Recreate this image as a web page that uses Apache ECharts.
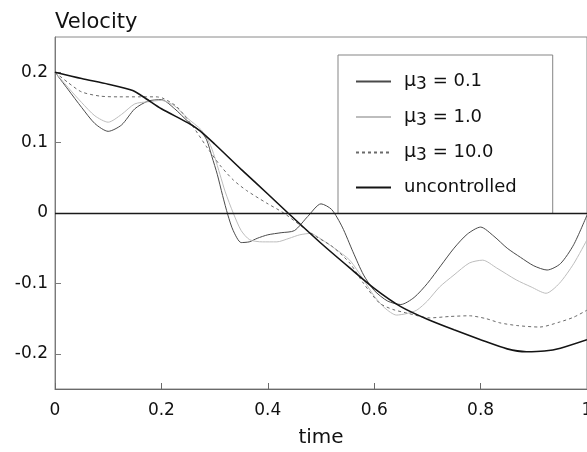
<!DOCTYPE html>
<html>
<head>
<meta charset="utf-8">
<script src="https://cdn.jsdelivr.net/npm/echarts@6/dist/echarts.min.js"></script>
<style>html,body{margin:0;padding:0;background:#fff;overflow:hidden;}#c{width:587px;height:452px;}</style>
</head>
<body>
<div id="c"></div>
<script>
var xTicks = [0, 0.2, 0.4, 0.6, 0.8, 1];
var yTicks = [-0.2, -0.1, 0, 0.1, 0.2];
var seriesNames = ['mu01', 'mu1', 'mu10', 'uncontrolled'];

var tMu01 = [0,0.025,0.05,0.075,0.1,0.125,0.15,0.175,0.2,0.225,0.25,0.275,0.285,0.295,0.305,0.315,0.325,0.335,0.35,0.365,0.38,0.4,0.425,0.45,0.475,0.5,0.52,0.54,0.56,0.58,0.6,0.625,0.65,0.675,0.7,0.725,0.75,0.775,0.8,0.825,0.85,0.875,0.9,0.925,0.95,0.975,1.0];
var vMu01 = [0.2,0.175,0.15,0.127,0.116,0.125,0.148,0.159,0.161,0.148,0.13,0.115,0.104,0.08,0.055,0.025,-0.003,-0.025,-0.042,-0.041,-0.036,-0.031,-0.028,-0.025,-0.005,0.013,0.005,-0.02,-0.055,-0.088,-0.11,-0.125,-0.13,-0.12,-0.1,-0.075,-0.05,-0.03,-0.02,-0.033,-0.05,-0.063,-0.075,-0.081,-0.072,-0.045,-0.003];

var tMu1 = [0,0.025,0.05,0.075,0.1,0.125,0.15,0.175,0.2,0.225,0.25,0.275,0.29,0.3,0.31,0.32,0.335,0.35,0.366,0.39,0.417,0.44,0.46,0.48,0.5,0.525,0.554,0.58,0.6,0.62,0.642,0.66,0.68,0.7,0.723,0.75,0.779,0.804,0.83,0.867,0.895,0.923,0.948,0.975,1.0];
var vMu1 = [0.2,0.178,0.157,0.138,0.129,0.14,0.155,0.158,0.16,0.152,0.134,0.118,0.1,0.08,0.055,0.03,0.0,-0.025,-0.038,-0.041,-0.041,-0.036,-0.031,-0.029,-0.037,-0.05,-0.067,-0.095,-0.118,-0.135,-0.145,-0.143,-0.138,-0.125,-0.105,-0.088,-0.071,-0.067,-0.078,-0.095,-0.105,-0.114,-0.1,-0.072,-0.038];

var tMu10 = [0,0.025,0.05,0.085,0.12,0.16,0.19,0.203,0.229,0.26,0.285,0.31,0.335,0.36,0.398,0.43,0.46,0.49,0.522,0.554,0.58,0.61,0.635,0.661,0.704,0.742,0.779,0.81,0.836,0.87,0.911,0.948,0.975,1.0];
var vMu10 = [0.2,0.185,0.172,0.166,0.165,0.165,0.165,0.163,0.151,0.122,0.094,0.068,0.047,0.032,0.014,0.0,-0.017,-0.033,-0.048,-0.071,-0.1,-0.128,-0.137,-0.142,-0.149,-0.147,-0.146,-0.15,-0.156,-0.16,-0.162,-0.155,-0.148,-0.138];

var tUnc = [0,0.05,0.1,0.146,0.17,0.2,0.25,0.272,0.3,0.35,0.4,0.438,0.5,0.554,0.6,0.65,0.7,0.75,0.8,0.85,0.886,0.92,0.95,1.0];
var vUnc = [0.2,0.191,0.183,0.174,0.163,0.148,0.128,0.117,0.098,0.062,0.027,0.0,-0.043,-0.078,-0.107,-0.133,-0.151,-0.166,-0.18,-0.193,-0.197,-0.196,-0.192,-0.18];

var legendLabels = {
  mu01: '{mu|\u03bc}{sub|3} = 0.1',
  mu1: '{mu|\u03bc}{sub|3} = 1.0',
  mu10: '{mu|\u03bc}{sub|3} = 10.0',
  uncontrolled: 'uncontrolled'
};

function pairs(t, v) { return t.map(function (x, i) { return [x, v[i]]; }); }

var FONT = 'DejaVu Sans';
var chart = echarts.init(document.getElementById('c'), null, {renderer: 'canvas'});
chart.setOption({
  animation: false,
  backgroundColor: '#ffffff',
  textStyle: {fontFamily: FONT, color: '#111'},
  title: {
    text: 'Velocity', left: 50, top: 7,
    textStyle: {fontFamily: FONT, fontSize: 21, fontWeight: 'normal', color: '#111'}
  },
  grid: {left: 55, right: 0, top: 37, bottom: 63, outerBoundsMode: 'none', containLabel: false,
    show: true, borderColor: '#8a8a8a', borderWidth: 1, backgroundColor: 'transparent'},
  legend: {
    left: 338, top: 55, orient: 'vertical',
    data: seriesNames,
    itemWidth: 35, itemHeight: 14, itemGap: 14,
    padding: [17, 36, 17, 17],
    borderColor: '#858585', borderWidth: 1,
    itemStyle: {opacity: 0},
    formatter: function (n) { return legendLabels[n]; },
    textStyle: {
      fontFamily: FONT, fontSize: 18, color: '#111', padding: [0, 0, 0, 8],
      rich: {
        mu: {fontFamily: FONT, fontSize: 19, color: '#111'},
        sub: {fontFamily: FONT, fontSize: 17, color: '#111', padding: [7, 0, 0, 0]}
      }
    }
  },
  xAxis: {
    type: 'value', min: 0, max: 1, interval: 0.2,
    name: 'time', nameLocation: 'middle', nameGap: 39,
    nameTextStyle: {fontFamily: FONT, fontSize: 20, color: '#111'},
    axisLine: {onZero: false, lineStyle: {color: '#6a6a6a', width: 1}},
    axisTick: {inside: true, length: 6, lineStyle: {color: '#6a6a6a'}},
    axisLabel: {fontFamily: FONT, fontSize: 17, color: '#111', margin: 13,
      formatter: function (v) { return xTicks.indexOf(Math.round(v * 10) / 10) >= 0 ? String(Math.round(v * 10) / 10) : ''; }},
    splitLine: {show: false}
  },
  yAxis: {
    type: 'value', min: -0.25, max: 0.25,
    axisLine: {show: true, onZero: false, lineStyle: {color: '#7a7a7a', width: 1}},
    axisTick: {inside: true, length: 6, customValues: yTicks, lineStyle: {color: '#7a7a7a'}},
    axisLabel: {fontFamily: FONT, fontSize: 17, color: '#111', margin: 7, customValues: yTicks,
      formatter: function (v) { var r = Math.round(v * 10) / 10; return r === 0 ? '0' : String(r); }},
    splitLine: {show: false}
  },
  series: [
    {name: 'mu01', type: 'line', data: pairs(tMu01, vMu01), symbol: 'none', smooth: 0.25,
      lineStyle: {color: '#4a4a4a', width: 1}, itemStyle: {color: '#4a4a4a'},
      markLine: {silent: true, symbol: 'none', label: {show: false},
        lineStyle: {color: '#1a1a1a', width: 1.3, type: 'solid'}, data: [{yAxis: 0}]}},
    {name: 'mu1', type: 'line', data: pairs(tMu1, vMu1), symbol: 'none', smooth: 0.25,
      lineStyle: {color: '#bdbdbd', width: 1}, itemStyle: {color: '#bdbdbd'}},
    {name: 'mu10', type: 'line', data: pairs(tMu10, vMu10), symbol: 'none', smooth: 0.25,
      lineStyle: {color: '#6a6a6a', width: 1, type: [3, 3]}, itemStyle: {color: '#6a6a6a'}},
    {name: 'uncontrolled', type: 'line', data: pairs(tUnc, vUnc), symbol: 'none', smooth: 0.25,
      lineStyle: {color: '#141414', width: 1.6}, itemStyle: {color: '#141414'}}
  ]
});
</script>
</body>
</html>
